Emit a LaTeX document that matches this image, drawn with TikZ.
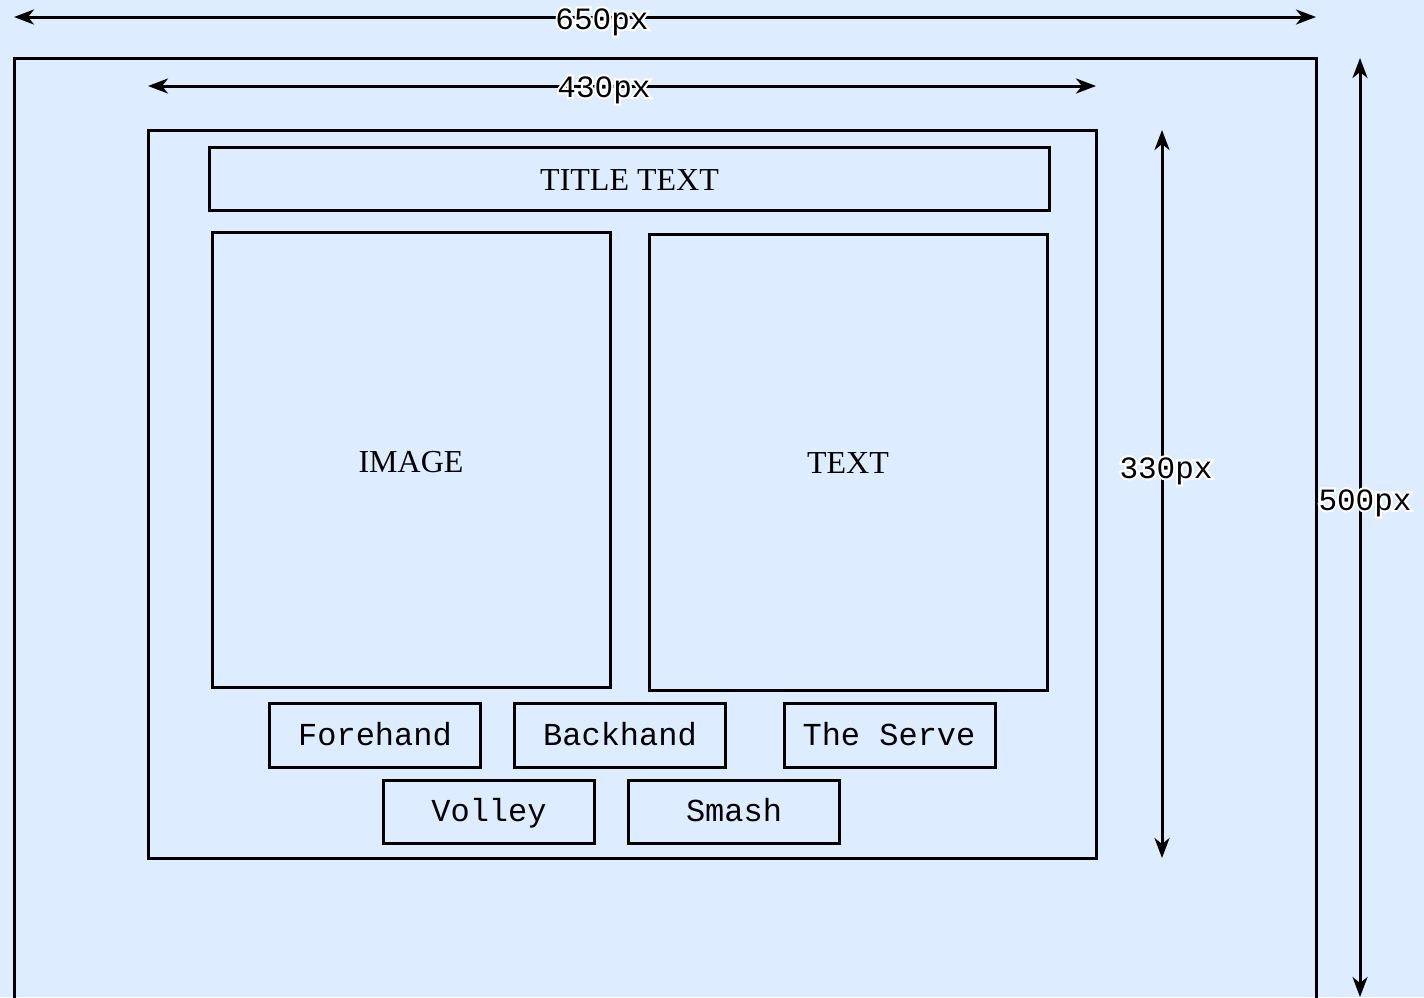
\documentclass[tikz,border=0pt]{standalone}
\usepackage{fontspec}
\setmainfont{Liberation Serif}
\setmonofont{Liberation Mono}
\newfontfamily\halomono{Liberation Mono}[FakeBold=14]
\usetikzlibrary{arrows.meta}
\definecolor{bgblue}{RGB}{221,236,254}
\newcommand\halo[1]{\rlap{\halomono\color{white}#1}#1}
\tikzset{
  box/.style={draw=black, line width=3pt, inner sep=0pt},
  serif/.style={font=\fontsize{32}{38}\selectfont, inner sep=0pt, anchor=base},
  mono/.style={font=\ttfamily\fontsize{32}{38}\selectfont, inner sep=0pt, anchor=base},
  dim/.style={draw=black, line width=3pt, {Stealth[length=20pt,width=15pt,inset=6pt]}-{Stealth[length=20pt,width=15pt,inset=6pt]}},
  dimlbl/.style={font=\ttfamily\fontsize{31}{38}\selectfont, inner sep=0pt, anchor=base}
}
\begin{document}
\begin{tikzpicture}[x=1pt, y=-1pt]
\useasboundingbox (0,0) rectangle (1424,997);
\clip (0,0) rectangle (1424,997);
\fill[bgblue] (0,0) rectangle (1424,997);
% outer 650 x 500 frame (bottom edge outside the view)
\draw[line width=3pt] (14,1010) -- (14,58) -- (1316,58) -- (1316,1010);
% coordinates for dimension arrows
\coordinate (w650a) at (14,17);
\coordinate (w650b) at (1316,17);
\coordinate (w430a) at (148,86);
\coordinate (w430b) at (1096,86);
\coordinate (h330a) at (1162,130);
\coordinate (h330b) at (1162,858);
\coordinate (h500a) at (1360,58);
\coordinate (h500b) at (1360,997);
\draw[dim] (w650a) -- (w650b);
\draw[dim] (w430a) -- (w430b);
\draw[dim] (h330a) -- (h330b);
\draw[dim] (h500a) -- (h500b);
% inner 430 x 330 frame
\node[box, minimum width=948pt, minimum height=728pt] (inner) at (622,494) {};
% title
\node[box, minimum width=840pt, minimum height=63pt] (title) at (629,178.5) {};
\node[serif] (titletxt) at (629.5,190) {TITLE TEXT};
% image and text panels
\node[box, minimum width=398pt, minimum height=455pt] (image) at (411,459.5) {};
\node[serif] (imagetxt) at (411,472) {IMAGE};
\node[box, minimum width=398pt, minimum height=456pt] (text) at (848,462) {};
\node[serif] (texttxt) at (848,473) {TEXT};
% buttons
\node[box, minimum width=211pt, minimum height=64pt] (fore) at (374.5,735) {};
\node[mono] (foretxt) at (375,745) {Forehand};
\node[box, minimum width=211pt, minimum height=64pt] (back) at (619.5,735) {};
\node[mono] (backtxt) at (620,745) {Backhand};
\node[box, minimum width=211pt, minimum height=64pt] (serve) at (889.5,735) {};
\node[mono] (servetxt) at (889,745) {The Serve};
\node[box, minimum width=211pt, minimum height=63pt] (volley) at (488.5,811.5) {};
\node[mono] (volleytxt) at (489,821) {Volley};
\node[box, minimum width=211pt, minimum height=63pt] (smash) at (733.5,811.5) {};
\node[mono] (smashtxt) at (734,821) {Smash};
% dimension labels
\node[dimlbl] (l650) at (602,29) {\halo{650px}};
\node[dimlbl] (l430) at (604,97) {\halo{430px}};
\node[dimlbl] (l330) at (1166,478) {\halo{330px}};
\node[dimlbl] (l500) at (1365,510) {\halo{500px}};
\end{tikzpicture}
\end{document}
